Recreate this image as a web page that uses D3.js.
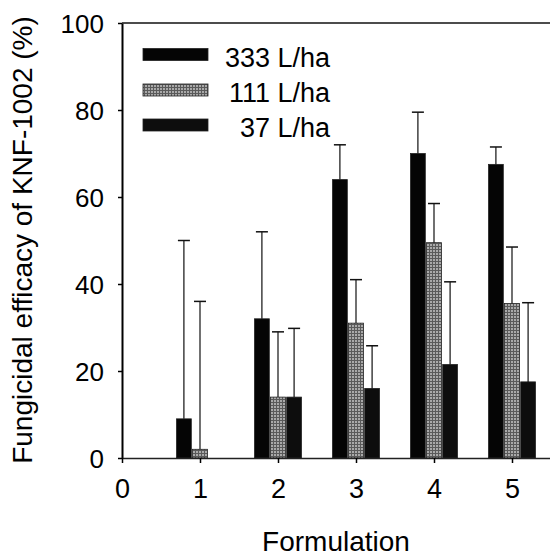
<!DOCTYPE html>
<html>
<head>
<meta charset="utf-8">
<script src="https://cdn.jsdelivr.net/npm/d3@7"></script>
<style>
  html, body { margin: 0; padding: 0; background: #fff; }
  svg { display: block; }
  text { font-family: "Liberation Sans", Arial, sans-serif; fill: #000; }
</style>
</head>
<body>
<svg id="chart" width="550" height="559"></svg>
<script>
// ---- data ----
const formulations = [1, 2, 3, 4, 5];
const seriesNames = ["333 L/ha", "111 L/ha", "37 L/ha"];
const values333 = [9, 32, 64, 70, 67.5];
const values111 = [2, 14, 31, 49.5, 35.5];
const values37  = [0, 14, 16, 21.5, 17.5];
const errTop333 = [50, 52, 72, 79.5, 71.5];
const errTop111 = [36, 29, 41, 58.5, 48.5];
const errTop37  = [0, 29.8, 25.8, 40.5, 35.7];
const xTicks = [0, 1, 2, 3, 4, 5];
const yTicks = [0, 20, 40, 60, 80, 100];

const series = [
  { name: seriesNames[0], values: values333, err: errTop333, fill: "#050505" },
  { name: seriesNames[1], values: values111, err: errTop111, fill: "url(#hatch)" },
  { name: seriesNames[2], values: values37,  err: errTop37,  fill: "#0d0d0d" }
];

const svg = d3.select("#chart");

// pattern for grey bars
const defs = svg.append("defs");
const pat = defs.append("pattern").attr("id", "hatch")
  .attr("patternUnits", "userSpaceOnUse").attr("width", 3).attr("height", 3);
pat.append("rect").attr("width", 3).attr("height", 3).attr("fill", "#a9a9a9");
pat.append("rect").attr("width", 3).attr("height", 1).attr("fill", "#5a5a5a");
pat.append("rect").attr("width", 1).attr("height", 3).attr("fill", "#5a5a5a");

const x = d3.scaleLinear().domain([0, 5.5]).range([122, 551]);
const y = d3.scaleLinear().domain([0, 100]).range([458, 23]);
const sub = d3.scaleBand().domain(seriesNames).range([-23.5, 23.5]).paddingInner(0.08);

// bars
series.forEach(s => {
  const g = svg.append("g");
  formulations.forEach((f, i) => {
    const v = s.values[i];
    if (v <= 0) return;
    const x0 = x(f) + sub(s.name);
    g.append("rect")
      .attr("x", x0).attr("y", y(v))
      .attr("width", sub.bandwidth()).attr("height", y(0) - y(v))
      .attr("fill", s.fill)
      .attr("stroke", "#222").attr("stroke-width", 0.8);
    const e = s.err[i];
    if (e > v) {
      const cx = x0 + sub.bandwidth() / 2;
      g.append("line").attr("x1", cx).attr("x2", cx)
        .attr("y1", y(v)).attr("y2", y(e))
        .attr("stroke", "#111").attr("stroke-width", 1.2);
      g.append("line").attr("x1", cx - 6).attr("x2", cx + 6)
        .attr("y1", y(e)).attr("y2", y(e))
        .attr("stroke", "#111").attr("stroke-width", 1.5);
    }
  });
});

// axes
const yAxis = d3.axisLeft(y).tickValues(yTicks).tickFormat(d3.format("d"))
  .tickSize(4).tickPadding(14).tickSizeOuter(0);
const gy = svg.append("g").attr("transform", `translate(${x(0)},0)`).call(yAxis);
gy.select(".domain").attr("stroke", "#000").attr("stroke-width", 2);
gy.selectAll(".tick line").attr("stroke", "#000").attr("stroke-width", 1.5);
gy.selectAll(".tick text").attr("font-size", 26).attr("dy", "0.36em")
  .attr("font-family", "Liberation Sans, Arial, sans-serif");

const xAxis = d3.axisBottom(x).tickValues(xTicks).tickFormat(d3.format("d"))
  .tickSize(5).tickPadding(16).tickSizeOuter(0);
const gx = svg.append("g").attr("transform", `translate(0,${y(0)})`).call(xAxis);
gx.select(".domain").attr("stroke", "#222").attr("stroke-width", 1.5);
gx.selectAll(".tick line").attr("stroke", "#000").attr("stroke-width", 1.5);
gx.selectAll(".tick text").attr("font-size", 27)
  .attr("font-family", "Liberation Sans, Arial, sans-serif");

// top frame line
svg.append("line").attr("x1", x(0)).attr("x2", x(5.5))
  .attr("y1", y(100)).attr("y2", y(100))
  .attr("stroke", "#111").attr("stroke-width", 1.5);

// axis titles
svg.append("text").attr("x", 336).attr("y", 551)
  .attr("text-anchor", "middle").attr("font-size", 28).text("Formulation");
svg.append("text")
  .attr("transform", `translate(32,240) rotate(-90)`)
  .attr("text-anchor", "middle").attr("font-size", 28)
  .text("Fungicidal efficacy of KNF-1002 (%)");

// legend
const legendY = [54.5, 90, 125];
series.forEach((s, i) => {
  svg.append("rect").attr("x", 143).attr("y", legendY[i] - 6)
    .attr("width", 65).attr("height", 12)
    .attr("fill", s.fill).attr("stroke", "#222").attr("stroke-width", 0.8);
  svg.append("text").attr("x", 330).attr("y", legendY[i] + 12)
    .attr("text-anchor", "end").attr("font-size", 27).text(s.name);
});
</script>
</body>
</html>
